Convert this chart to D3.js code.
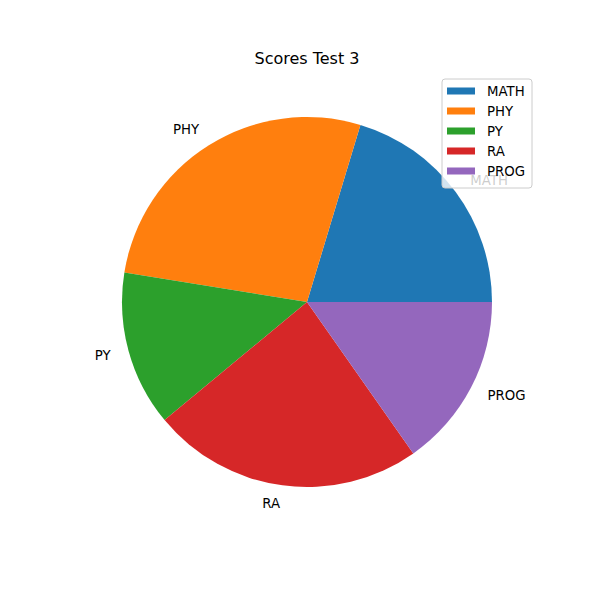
<!DOCTYPE html>
<html>
<head>
<meta charset="utf-8">
<script src="https://cdn.jsdelivr.net/npm/d3@7"></script>
<style>
  body { margin: 0; background: #fff; }
  text { font-family: "DejaVu Sans", sans-serif; fill: #000; }
</style>
</head>
<body>
<div id="chart"></div>
<script>
const subjects = ['MATH', 'PHY', 'PY', 'RA', 'PROG'];
const scores = [60, 80, 40, 70, 45];
const colors = ['#1f77b4', '#ff7f0e', '#2ca02c', '#d62728', '#9467bd'];

const width = 600, height = 600;
const cx = 307, cy = 302, radius = 185;

const svg = d3.select('#chart').append('svg')
    .attr('width', width)
    .attr('height', height);

svg.append('text')
    .attr('x', 307)
    .attr('y', 58)
    .attr('text-anchor', 'middle')
    .attr('dominant-baseline', 'central')
    .style('font-size', '16px')
    .text('Scores Test 3');

const data = subjects.map((s, i) => ({name: s, value: scores[i], color: colors[i]}));

// matplotlib style: start at 3 o'clock, counter-clockwise
const total = d3.sum(scores);
const angle = d3.scaleLinear().domain([0, total]).range([0, 2 * Math.PI]);
let acc = 0;
data.forEach(d => {
  d.a0 = angle(acc);
  acc += d.value;
  d.a1 = angle(acc);
});

// d3.arc measures from 12 o'clock clockwise; convert
const arc = d3.arc().innerRadius(0).outerRadius(radius);
const g = svg.append('g')
    .attr('transform', 'translate(' + cx + ',' + cy + ')');

g.selectAll('path')
    .data(data)
  .enter().append('path')
    .attr('d', d => arc({startAngle: Math.PI / 2 - d.a1, endAngle: Math.PI / 2 - d.a0}))
    .attr('fill', d => d.color);

g.selectAll('.label')
    .data(data)
  .enter().append('text')
    .attr('class', 'label')
    .attr('x', d => 1.1 * radius * Math.cos((d.a0 + d.a1) / 2))
    .attr('y', d => -1.1 * radius * Math.sin((d.a0 + d.a1) / 2))
    .attr('text-anchor', d => Math.cos((d.a0 + d.a1) / 2) > 0 ? 'start' : 'end')
    .attr('dominant-baseline', 'central')
    .style('font-size', '13.3px')
    .text(d => d.name);

// legend
const legend = svg.append('g')
    .attr('transform', 'translate(442,79)');

legend.append('rect')
    .attr('width', 90)
    .attr('height', 109)
    .attr('rx', 3)
    .attr('fill', 'rgba(255,255,255,0.8)')
    .attr('stroke', '#cccccc');

const item = legend.selectAll('.item')
    .data(data)
  .enter().append('g')
    .attr('class', 'item')
    .attr('transform', (d, i) => 'translate(0,' + (12 + i * 20) + ')');

item.append('rect')
    .attr('x', 5)
    .attr('y', -3.5)
    .attr('width', 28)
    .attr('height', 7)
    .attr('fill', d => d.color);

item.append('text')
    .attr('x', 45)
    .attr('y', 0)
    .attr('dominant-baseline', 'central')
    .style('font-size', '13.3px')
    .text(d => d.name);
</script>
</body>
</html>
